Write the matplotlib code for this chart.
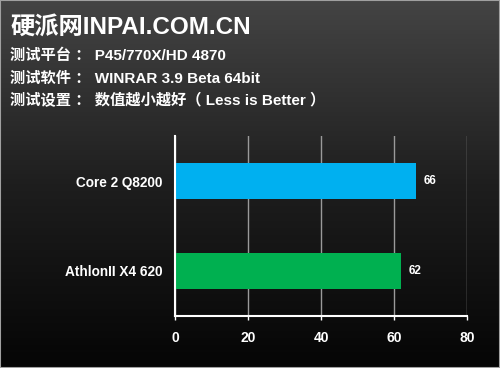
import numpy as np
import matplotlib
matplotlib.use("Agg")
import matplotlib.pyplot as plt

plt.rcParams['font.family'] = ['Liberation Sans', 'Noto Sans CJK SC', 'DejaVu Sans']
plt.rcParams['font.weight'] = 'bold'

# data
cpus = ["AthlonII X4 620", "Core 2 Q8200"]
scores = [62, 66]
bar_colors = ["#00B050", "#00B0F0"]
xticks = [0, 20, 40, 60, 80]

title = "硬派网INPAI.COM.CN"
info_lines = ["测试平台 ： P45/770X/HD 4870",
              "测试软件 ： WINRAR 3.9 Beta 64bit",
              "测试设置 ： 数值越小越好（ Less is Better ）"]

fig = plt.figure(figsize=(5, 3.68), dpi=100)

# background gradient, gray at top to black at bottom
bg = fig.add_axes([0, 0, 1, 1], zorder=-10)
grad = np.linspace(0, 1, 256).reshape(-1, 1)
bg.imshow(grad, aspect='auto', cmap=plt.matplotlib.colors.LinearSegmentedColormap.from_list(
    "bg", ["#050505", "#1e1e1e", "#444444"]), extent=[0, 1, 0, 1], origin='lower')
bg.set_xlim(0, 1)
bg.set_ylim(0, 1)
for s in bg.spines.values():
    s.set_color("#a0a0a0")
    s.set_linewidth(1.5)
bg.set_xticks([])
bg.set_yticks([])

fig.text(0.02, 0.908, title, color="white", fontsize=17.5, fontweight='bold', va='baseline')
ys = [0.838, 0.774, 0.714]
for y, line in zip(ys, info_lines):
    fig.text(0.02, y, line, color="white", fontsize=11, fontweight='bold', va='baseline')

ax = fig.add_axes([0.35, 0.142, 0.584, 0.488])
ax.set_facecolor('none')
pos = np.arange(len(cpus))
ax.barh(pos, scores, height=0.4, color=bar_colors, zorder=3)
for p, v in zip(pos, scores):
    ax.text(v + 2, p, str(v), color="white", fontsize=8.5, fontweight='bold', va='center')

ax.set_xlim(0, 80)
ax.set_ylim(-0.5, 1.5)
ax.set_xticks(xticks)
ax.set_yticks(pos)
ax.set_yticklabels(cpus)
ax.tick_params(axis='x', colors='white', labelsize=10, length=3, width=1, pad=8)
ax.tick_params(axis='y', colors='white', labelsize=9.8, length=0, pad=9)
for lbl in ax.get_xticklabels() + ax.get_yticklabels():
    lbl.set_fontweight('bold')
ax.grid(axis='x', color='#9a9a9a', linewidth=1, zorder=1)
ax.spines['top'].set_visible(False)
ax.spines['right'].set_visible(False)
ax.spines['left'].set_color('white')
ax.spines['bottom'].set_color('white')
ax.spines['left'].set_linewidth(1.5)
ax.spines['bottom'].set_linewidth(1.5)
ax.spines['left'].set_zorder(4)

fig.savefig("out.png", dpi=100)
